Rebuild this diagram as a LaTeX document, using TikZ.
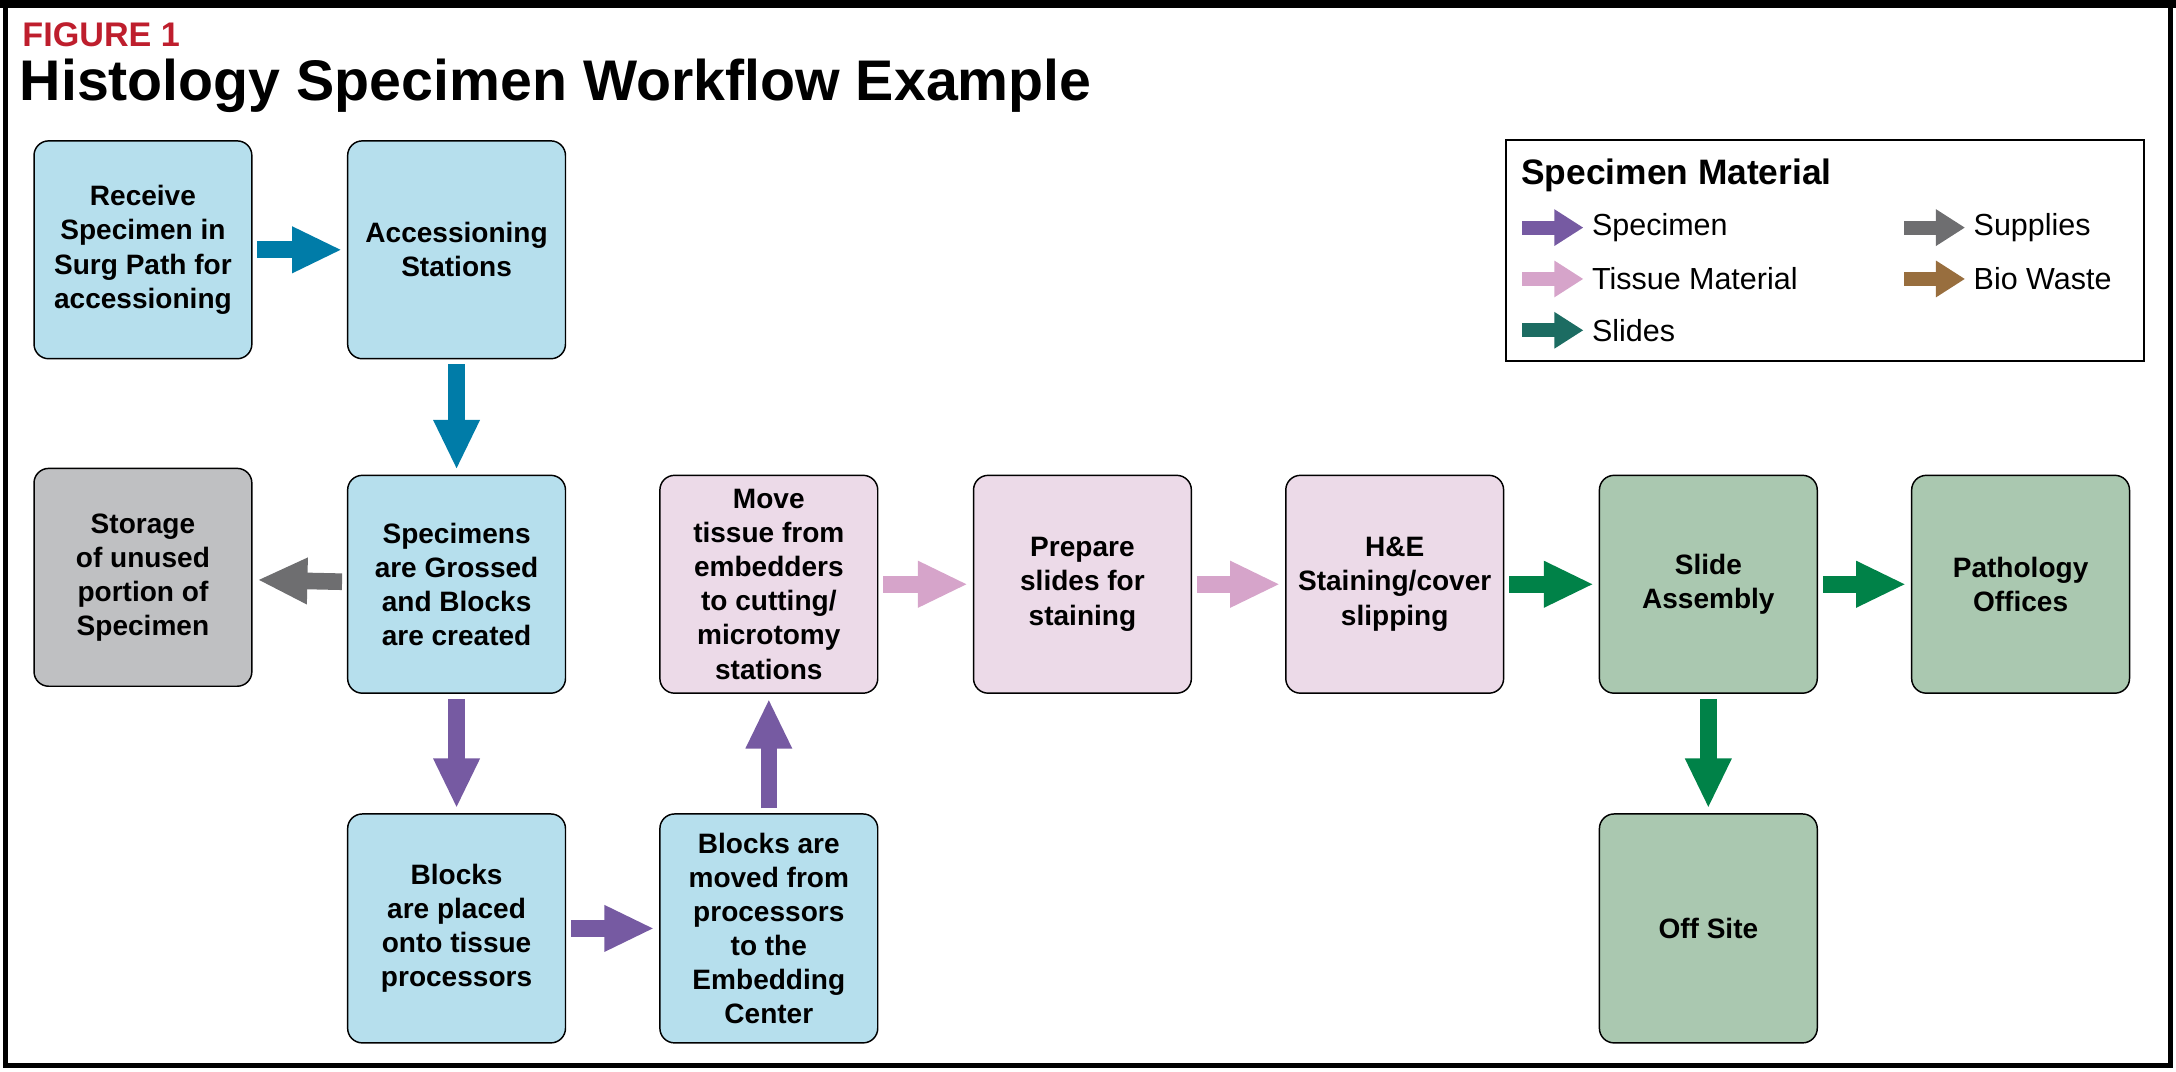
\documentclass[tikz,border=0pt]{standalone}
\usepackage{fontspec}
\setmainfont{Liberation Sans}
\usetikzlibrary{arrows.meta,positioning}
\definecolor{boxblue}{RGB}{182,223,237}
\definecolor{boxgray}{RGB}{191,192,194}
\definecolor{boxpink}{RGB}{236,218,232}
\definecolor{boxgreen}{RGB}{170,200,176}
\definecolor{arblue}{RGB}{0,124,168}
\definecolor{arpurple}{RGB}{118,90,162}
\definecolor{arpink}{RGB}{214,164,202}
\definecolor{argreen}{RGB}{0,130,72}
\definecolor{argray}{RGB}{110,110,112}
\definecolor{arbrown}{RGB}{152,110,62}
\definecolor{arteal}{RGB}{28,108,98}
\definecolor{figred}{RGB}{190,30,45}
\begin{document}
\begin{tikzpicture}[x=0.02cm,y=-0.02cm]
\tikzset{wstep/.style={draw=black,line width=0.6pt,rounded corners=6pt,minimum width=3.14cm,minimum height=3.14cm,
    align=center,font=\fontsize{11.5}{14}\selectfont\bfseries}}
\tikzset{flow/.style={line width=0.24cm,-{Triangle[length=0.72cm,width=0.62cm]},shorten >=2pt,shorten <=2pt}}
\tikzset{key/.style={anchor=west,font=\fontsize{12.5}{15}\selectfont}}
%\tikzset{flow/.style={-Latex,thick}}
\useasboundingbox (0,0) rectangle (1568,772);
\draw[line width=2pt] (4,4) rectangle (1564,768);
\draw[line width=4pt] (0,2) -- (1568,2);
\node[anchor=west,text=figred,font=\fontsize{14}{16}\selectfont\bfseries] (fig) at (10,25) {FIGURE 1};
\node[anchor=west,font=\fontsize{23.5}{28}\selectfont\bfseries] (title) at (8,62) {Histology Specimen Workflow Example};
% top row
\node[wstep,fill=boxblue] (recv) at (103,180) {Receive\\Specimen in\\Surg Path for\\accessioning};
\node[wstep,fill=boxblue] (acc) at (329,180) {Accessioning\\Stations};
% middle row
\node[wstep,fill=boxgray] (store) at (103,416) {Storage\\of unused\\portion of\\Specimen};
\node[wstep,fill=boxblue] (gross) at (329,421) {Specimens\\are Grossed\\and Blocks\\are created};
\node[wstep,fill=boxpink] (move) at (554,421) {Move\\tissue from\\embedders\\to cutting/\\microtomy\\stations};
\node[wstep,fill=boxpink] (prep) at (780,421) {Prepare\\slides for\\staining};
\node[wstep,fill=boxpink] (stain) at (1005,421) {H\&E\\Staining/cover\\slipping};
\node[wstep,fill=boxgreen] (assy) at (1231,421) {Slide\\Assembly};
\node[wstep,fill=boxgreen] (path) at (1456,421) {Pathology\\Offices};
% bottom row
\node[wstep,fill=boxblue,minimum height=3.3cm] (place) at (329,669) {Blocks\\are placed\\onto tissue\\processors};
\node[wstep,fill=boxblue,minimum height=3.3cm] (embed) at (554,669) {Blocks are\\moved from\\processors\\to the\\Embedding\\Center};
\node[wstep,fill=boxgreen,minimum height=3.3cm] (off) at (1231,669) {Off Site};
% connectors
\draw[flow,arblue] (recv) -- (acc);
\draw[flow,arblue] (acc) -- (gross);
\draw[flow,argray] (gross) -- (store);
\draw[flow,arpurple] (gross) -- (place);
\draw[flow,arpurple] (place) -- (embed);
\draw[flow,arpurple] (embed) -- (move);
\draw[flow,arpink] (move) -- (prep);
\draw[flow,arpink] (prep) -- (stain);
\draw[flow,argreen] (stain) -- (assy);
\draw[flow,argreen] (assy) -- (path);
\draw[flow,argreen] (assy) -- (off);
% legend
\draw[line width=0.8pt] (1085,101) rectangle (1545,260);
\node[anchor=west,font=\fontsize{14.5}{17}\selectfont\bfseries] (ltitle) at (1090,126) {Specimen Material};
\tikzset{kflow/.style={line width=0.2cm,-{Triangle[length=0.42cm,width=0.5cm]}}}
\foreach \n/\c/\t/\x/\y in {a/arpurple/Specimen/1097/164, b/arpink/Tissue Material/1097/201, c/arteal/Slides/1097/238,
    d/argray/Supplies/1372/164, e/arbrown/Bio Waste/1372/201}{
  \coordinate (k\n) at (\x,\y);
  \node[key] (t\n) at (\x+44,\y) {\t};
  \draw[kflow,\c] (k\n) -- (t\n.west);
}
\end{tikzpicture}
\end{document}
